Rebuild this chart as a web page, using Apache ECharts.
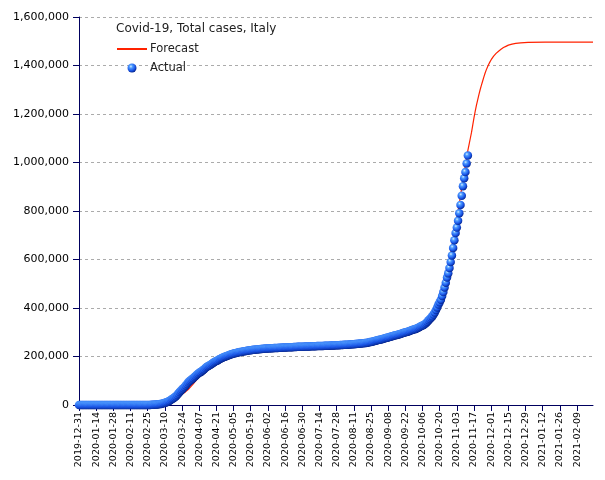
<!DOCTYPE html>
<html>
<head>
<meta charset="utf-8">
<script src="https://cdn.jsdelivr.net/npm/echarts@6/dist/echarts.min.js"></script>
<style>html,body{margin:0;padding:0;background:#fff}#c{width:605px;height:480px}</style>
</head>
<body>
<div id="c"></div>
<script>
// ---- Data ----
var startDate = '2019-12-31';
var dayCount = 420; // 2019-12-31 .. 2021-02-22

// Actual total cases (one value per day from 2019-12-31)
var actualDecJan = [0,0,0,0,0,0,0,0,0,0,0,0,0,0,0,0,0,0,0,0,0,0,0,0,0,0,0,0,0,0,0,0];
var actualFeb = [2,2,2,2,2,2,3,3,3,3,3,3,3,3,3,3,3,3,3,3,3,20,79,152,229,322,400,650,888];
var actualMar = [1128,1694,2036,2502,3089,3858,4636,5883,7375,9172,10149,12462,15113,17660,21157,24747,27980,31506,35713,41035,47021,53578,59138,63927,69176,74386,80589,86498,92472,97689,101739];
var actualApr = [105792,110574,115242,119827,124632,128948,132547,135586,139422,143626,147577,152271,156363,159516,162488,165155,168941,172434,175925,178972,181228,183957,187327,189973,192994,195351,197675,199414,201505,203591];
var actualMay = [205463,207428,209328,210717,211938,213013,214457,215858,217185,218268,219070,219814,221216,222104,223096,223885,224760,225435,225886,226699,227364,228006,228658,229327,229858,230158,230555,231139,231732,232248,232664];
var actualJun = [233019,233197,233515,233836,234013,234531,234801,234998,235278,235561,235763,236142,236305,236651,236989,237290,237500,237828,238159,238011,238275,238499,238720,238833,239410,239706,239961,240136,240310,240436];
var actualJul = [240578,240760,240961,241184,241419,241611,241819,241956,242149,242363,242639,242827,243061,243230,243344,243506,243736,243967,244216,244434,244624,244752,245032,245338,245590,245864,246118,246286,246488,246776,247158];
var actualAug = [247537,247832,248070,248229,248419,248803,249204,249756,250103,250566,250825,251237,251713,252235,252809,253438,253915,254235,254636,255278,256118,257065,258136,259345,260298,261174,262540,263949,265409,267273,268218];
var actualSep = [269214,270189,271515,272912,274644,276338,277634,278784,280153,281583,283180,284796,286297,287753,288761,290089,291442,293025,294932,296569,298156,299506,300897,302537,304323,306235,308104,309870,311364,312894];
var actualOct = [314861,317409,319908,322751,325329,327586,330263,333940,338398,343770,349494,354950,359569,365467,372799,381602,391611,402536,414241,423578,434449,449648,465726,484869,504509,525782,542789,564778,589766,616595,647674];
var actualNov = [679430,709335,731588,759829,790377,824879,862681,902490,935104,960373,995463,1028424];

// Forecast (day index from 2019-12-31, value)
var forecastDays = [0,50,55,60,63,66,69,72,75,78,81,84,87,89,91,93,95,97,100,103,106,110,115,120,125,130,140,150,160,180,200,220,235,250,260,270,275,280,285,290,294,298,302,306,310,313,315,317,318,319,320,321,322,323,324,325,326,327,328,329,330,331,332,333,334,335,336,337,338,339,340,342,344,346,348,350,353,356,360,366,380,419];
var forecastVals = [0,0,200,1000,2500,5000,8500,13000,19000,27000,35000,44000,55000,64000,75000,86000,98000,110000,127000,143000,157000,173000,189000,200000,208000,214000,222000,228000,232000,237000,242000,249000,258000,272000,285000,302000,315000,330000,355000,395000,440000,510000,600000,710000,830000,930000,990000,1050000,1075000,1100000,1125000,1155000,1185000,1212000,1237000,1258000,1280000,1300000,1318000,1335000,1352000,1368000,1382000,1394000,1405000,1415000,1424000,1432000,1439000,1445000,1450000,1459000,1467000,1474000,1479000,1484000,1488000,1491000,1493500,1495500,1496500,1496500];

// Tick labels on the value axis
var yTicks = [0,200000,400000,600000,800000,1000000,1200000,1400000,1600000];

// ---- Build ----
function fmtDate(d){
  var m = d.getUTCMonth()+1, dd = d.getUTCDate();
  return d.getUTCFullYear()+'-'+(m<10?'0':'')+m+'-'+(dd<10?'0':'')+dd;
}
var categories = [];
var t0 = Date.parse(startDate+'T00:00:00Z');
for (var i=0;i<dayCount;i++){ categories.push(fmtDate(new Date(t0 + i*86400000))); }

var actual = [].concat(actualDecJan, actualFeb, actualMar, actualApr, actualMay, actualJun, actualJul, actualAug, actualSep, actualOct, actualNov);

var forecast = [];
for (var i=0;i<dayCount;i++) forecast.push(null);
for (var k=0;k<forecastDays.length;k++) forecast[forecastDays[k]] = forecastVals[k];

var axisColor = '#00005f';
var FONT = 'DejaVu Sans';
var sphere = {
  type:'radial', x:0.38, y:0.33, r:0.72,
  colorStops:[
    {offset:0, color:'#d6eeff'},
    {offset:0.25, color:'#4f9dff'},
    {offset:0.65, color:'#1a56e8'},
    {offset:1, color:'#001c80'}
  ]
};

var chart = echarts.init(document.getElementById('c'), null, {renderer:'canvas'});
chart.setOption({
  animation:false,
  backgroundColor:'#fff',
  textStyle:{fontFamily:FONT},
  title:{
    text:'Covid-19, Total cases, Italy',
    left:116, top:23, padding:0,
    textStyle:{fontFamily:FONT, fontSize:12, fontWeight:'normal', color:'#222'}
  },
  legend:{
    orient:'vertical', left:116, top:43, padding:0,
    itemWidth:30, itemHeight:9, itemGap:7,
    textStyle:{fontFamily:FONT, fontSize:11.5, color:'#222', padding:[0,0,0,-2]},
    data:[{name:'Forecast', itemStyle:{opacity:0}},{name:'Actual', icon:'circle'}]
  },
  grid:{left:79, right:12, top:17, bottom:75},
  xAxis:{
    type:'category', data:categories, boundaryGap:false,
    axisLine:{lineStyle:{color:axisColor, width:1}},
    axisTick:{interval:13, length:6, lineStyle:{color:axisColor}},
    axisLabel:{interval:13, rotate:90, margin:7, fontFamily:FONT, fontSize:9.5, color:'#000'},
    splitLine:{show:false}
  },
  yAxis:{
    type:'value', min:0, max:1600000, interval:200000,
    axisLine:{show:true, lineStyle:{color:axisColor, width:1}},
    axisTick:{show:true, length:6, lineStyle:{color:axisColor}},
    axisLabel:{margin:10, fontFamily:FONT, fontSize:11, color:'#000',
      formatter:function(v){ return yTicks.indexOf(v)>=0 ? v.toLocaleString('en-US') : ''; }},
    splitLine:{show:true, lineStyle:{color:'#ababab', type:[3,3], width:1}}
  },
  series:[
    {
      name:'Forecast', type:'line', data:forecast, connectNulls:true,
      symbol:'none', showSymbol:false,
      lineStyle:{color:'#ff2200', width:1.2},
      itemStyle:{color:'#ff2200'},
      z:2
    },
    {
      name:'Actual', type:'scatter', data:actual,
      symbol:'circle', symbolSize:8.5,
      itemStyle:{color:sphere, opacity:1},
      z:3
    }
  ]
});
</script>
</body>
</html>
